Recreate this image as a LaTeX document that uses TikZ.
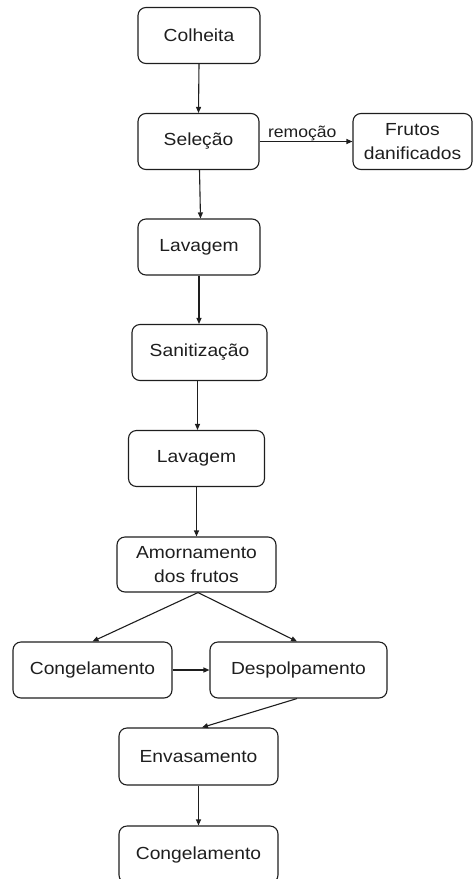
\documentclass[tikz,border=0pt]{standalone}
\usepackage{fontspec}
\setmainfont{Liberation Sans}[FakeStretch=1.1]
\usetikzlibrary{arrows.meta}
\definecolor{ink}{HTML}{1E1E1E}
\begin{document}
\begin{tikzpicture}[x=1pt,y=-1pt,
  box/.style={draw=ink, line width=1.1pt, rounded corners=8pt, text=ink,
    font=\fontsize{17.5}{23.5}\selectfont, align=center, inner sep=0pt,
    minimum height=56pt},
  arr/.style={draw=ink, line width=1.1pt, -{Triangle[length=6pt,width=5pt]}},
  lbl/.style={text=ink, font=\fontsize{16}{18}\selectfont, inner sep=0.5pt}]
\useasboundingbox (0,0) rectangle (476,879);
\node[box, minimum width=122pt] (colheita) at (199,35.5) {Colheita};
\node[box, minimum width=121pt] (selecao) at (198.5,141.5) {Seleção};
\node[box, minimum width=119pt] (frutos) at (412.5,141.5) {Frutos\\danificados};
\node[box, minimum width=122pt] (lav1) at (199,247) {Lavagem};
\node[box, minimum width=135pt] (sanit) at (199.5,352.5) {Sanitização};
\node[box, minimum width=136pt] (lav2) at (196.5,458.5) {Lavagem};
\node[box, minimum width=159pt, minimum height=55pt] (amorn) at (196.5,564.5) {Amornamento\\dos frutos};
\node[box, minimum width=159pt] (cong1) at (92.5,670) {Congelamento};
\node[box, minimum width=177pt] (desp) at (298.5,670) {Despolpamento};
\node[box, minimum width=159pt, minimum height=57pt] (envas) at (198.5,756.5) {Envasamento};
\node[box, minimum width=159pt, minimum height=57pt] (cong2) at (198.5,854.5) {Congelamento};

\draw[arr] (colheita.south) -- (selecao.north);
\draw[arr] (selecao.east) -- node[lbl, above, pos=0.46] {remoção} (frutos.west);
\draw[arr] ([xshift=1pt]selecao.south) -- ([xshift=1.5pt]lav1.north);
\draw[arr] (lav1.south) -- (sanit.north -| lav1.south);
\draw[arr] ([xshift=-2pt]sanit.south) -- ([xshift=-2pt]lav2.north -| sanit.south);
\draw[arr] (lav2.south) -- (amorn.north -| lav2.south);
\draw[arr] ([xshift=1.5pt]amorn.south) -- (cong1.north);
\draw[arr] ([xshift=1.5pt]amorn.south) -- ([xshift=-1.5pt]desp.north);
\draw[arr] (cong1.east) -- (desp.west);
\draw[arr] ([xshift=-1.5pt]desp.south) -- ([xshift=3.5pt]envas.north);
\draw[arr] (envas.south) -- (cong2.north);
\end{tikzpicture}
\end{document}
